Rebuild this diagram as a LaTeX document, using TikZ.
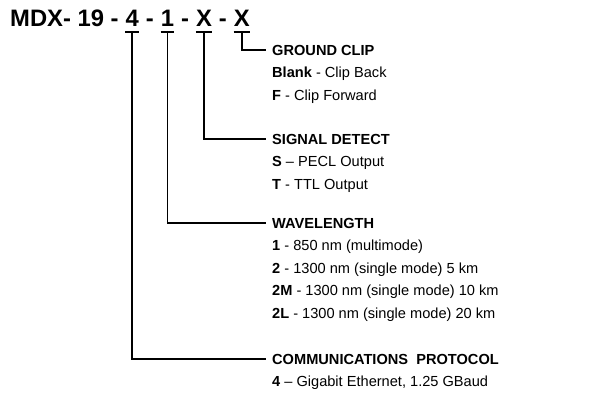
\documentclass[tikz,border=0pt]{standalone}
\usepackage{fontspec}
\setmainfont{Liberation Sans}
\usetikzlibrary{positioning}

\begin{document}
\begin{tikzpicture}[
  x=1pt,y=-1pt,
  every node/.style={inner sep=0pt},
  titlepart/.style={anchor=base west,font=\fontsize{23.8}{28}\selectfont\bfseries},
  codechar/.style={titlepart,text depth=6pt},
  heading/.style={anchor=base west,inner xsep=6pt,font=\fontsize{14.6}{17}\selectfont\bfseries},
  item/.style={anchor=base west,font=\fontsize{14.6}{17}\selectfont},
  conn/.style={line width=1.8pt},
]
  \useasboundingbox[fill=white] (0,0) rectangle (608,400);

  % Part number
  \node[titlepart] (t0) at (10,26) {MDX- 19 -\ \null};
  \node[codechar] (d4) at (t0.base east) {4};
  \node[titlepart] (s1) at (d4.base east) {\ -\ \null};
  \node[codechar] (d1) at (s1.base east) {1};
  \node[titlepart] (s2) at (d1.base east) {\ -\ \null};
  \node[codechar] (dx1) at (s2.base east) {X};
  \node[titlepart] (s3) at (dx1.base east) {\ -\ \null};
  \node[codechar] (dx2) at (s3.base east) {X};

  % Ground clip
  \node[heading] (gc) at (266,55.2) {GROUND CLIP};
  \node[item] (gc1) at (272,77.7) {\textbf{Blank} - Clip Back};
  \node[item] (gc2) at (272,100.2) {\textbf{F} - Clip Forward};

  % Signal detect
  \node[heading] (sd) at (266,144.2) {SIGNAL DETECT};
  \node[item] (sd1) at (272,166.7) {\textbf{S} -- PECL Output};
  \node[item] (sd2) at (272,189.2) {\textbf{T} - TTL Output};

  % Wavelength
  \node[heading] (wl) at (266,228.2) {WAVELENGTH};
  \node[item] (wl1) at (272,250.7) {\textbf{1} - 850 nm (multimode)};
  \node[item] (wl2) at (272,273.2) {\textbf{2} - 1300 nm (single mode) 5 km};
  \node[item] (wl3) at (272,295.7) {\textbf{2M} - 1300 nm (single mode) 10 km};
  \node[item] (wl4) at (272,318.2) {\textbf{2L} - 1300 nm (single mode) 20 km};

  % Communications protocol
  \node[heading] (cp) at (266,364.2) {COMMUNICATIONS~ PROTOCOL};
  \node[item] (cp1) at (272,386.7) {\textbf{4} -- Gigabit Ethernet, 1.25 GBaud};

  % Underlines
  \foreach \c in {d4,d1,dx1,dx2}
    \draw[conn] (\c.south west) -- (\c.south east);

  % Leaders
  \draw[conn] (dx2.south) |- (gc.west);
  \draw[conn] (dx1.south) |- (sd.west);
  \draw[conn] (d1.south) |- (wl.west);
  \draw[conn] (d4.south) |- (cp.west);
\end{tikzpicture}
\end{document}
